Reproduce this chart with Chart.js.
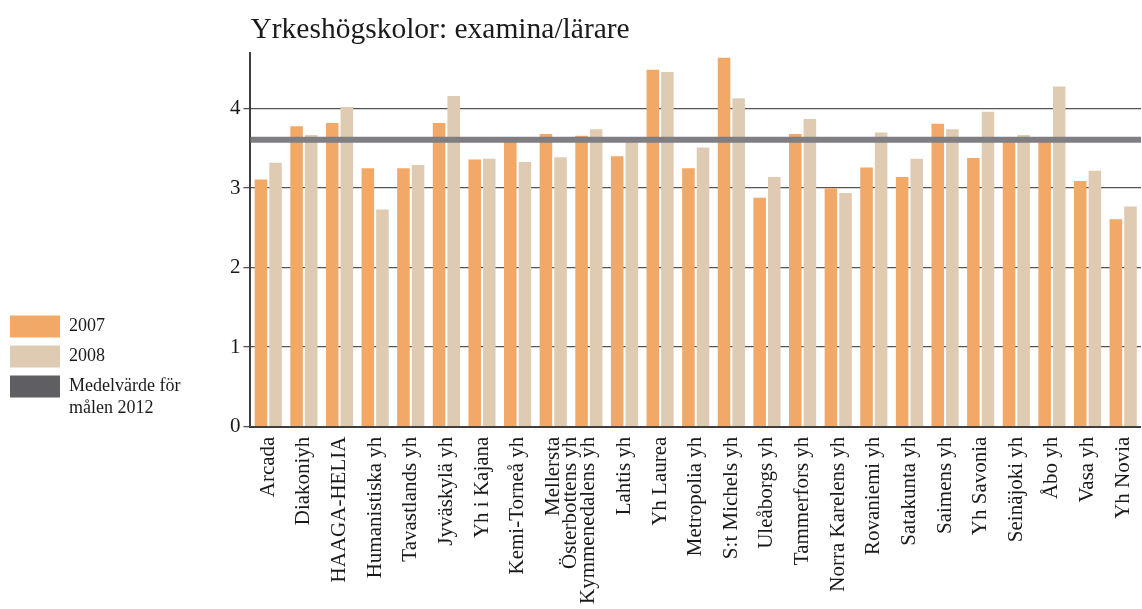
<!DOCTYPE html>
<html>
<head>
<meta charset="utf-8">
<script src="https://cdn.jsdelivr.net/npm/chart.js@4"></script>
<style>
  html, body { margin: 0; padding: 0; background: #fff; }
  #wrap { width: 1142px; height: 609px; }
</style>
</head>
<body>
<div id="wrap"><canvas id="chart"></canvas></div>
<script>
// Yrkeshögskolor: examina per lärare 2007 och 2008
const titel = 'Yrkeshögskolor: examina/lärare';

const skolor = [
  'Arcada', 'Diakoniyh', 'HAAGA-HELIA', 'Humanistiska yh', 'Tavastlands yh',
  'Jyväskylä yh', 'Yh i Kajana', 'Kemi-Torneå yh', ['Mellersta', 'Österbottens yh'],
  'Kymmenedalens yh', 'Lahtis yh', 'Yh Laurea', 'Metropolia yh', 'S:t Michels yh',
  'Uleåborgs yh', 'Tammerfors yh', 'Norra Karelens yh', 'Rovaniemi yh', 'Satakunta yh',
  'Saimens yh', 'Yh Savonia', 'Seinäjoki yh', 'Åbo yh', 'Vasa yh', 'Yh Novia'
];

const ar2007 = [3.11, 3.78, 3.82, 3.25, 3.25, 3.82, 3.36, 3.60, 3.68, 3.66, 3.40, 4.49, 3.25,
                4.64, 2.88, 3.68, 3.00, 3.26, 3.14, 3.81, 3.38, 3.60, 3.60, 3.09, 2.61];
const ar2008 = [3.32, 3.67, 4.02, 2.73, 3.29, 4.16, 3.37, 3.33, 3.39, 3.74, 3.60, 4.46, 3.51,
                4.13, 3.14, 3.87, 2.94, 3.70, 3.37, 3.74, 3.96, 3.67, 4.28, 3.22, 2.77];

// målet för 2012
const malvarde = 3.61;
const malEtikett = ['Medelvärde för', 'målen 2012'];

const yTicks = [0, 1, 2, 3, 4];

const serif = "'Liberation Serif', 'DejaVu Serif', serif";
const farg2007 = '#f2a866';
const farg2008 = '#dfcbb1';
const fargMal = '#5f5e63';

// horisontell linje för målet, över hela ritytan
const malLinje = {
  id: 'malLinje',
  afterDatasetsDraw(chart) {
    const { ctx, chartArea, scales } = chart;
    const y = scales.y.getPixelForValue(malvarde);
    ctx.save();
    ctx.strokeStyle = '#7f7e82';
    ctx.lineWidth = 6;
    ctx.beginPath();
    ctx.moveTo(chartArea.left, y);
    ctx.lineTo(chartArea.right, y);
    ctx.stroke();
    ctx.restore();
  }
};

const ctx = document.getElementById('chart');
new Chart(ctx, {
  type: 'bar',
  data: {
    labels: skolor,
    datasets: [
      {
        label: '2007',
        data: ar2007,
        backgroundColor: farg2007,
        categoryPercentage: 0.82,
        barPercentage: 0.86
      },
      {
        label: '2008',
        data: ar2008,
        backgroundColor: farg2008,
        categoryPercentage: 0.82,
        barPercentage: 0.86
      }
    ]
  },
  plugins: [malLinje],
  options: {
    responsive: true,
    maintainAspectRatio: false,
    animation: false,
    layout: { padding: { top: 4, right: 0, bottom: 3, left: 2 } },
    plugins: {
      title: {
        display: true,
        text: titel,
        align: 'start',
        fullSize: false,
        color: '#1a1a1a',
        font: { family: serif, size: 29.5, weight: 'normal', lineHeight: 1 },
        padding: { top: 11, bottom: 8.5 }
      },
      legend: {
        position: 'left',
        align: 'end',
        fullSize: false,
        labels: {
          boxWidth: 50,
          boxHeight: 22,
          padding: 8,
          color: '#1a1a1a',
          font: { family: serif, size: 18 },
          generateLabels: (chart) => {
            const items = Chart.defaults.plugins.legend.labels.generateLabels(chart);
            items.forEach(it => { it.lineWidth = 0; });
            items.push({
              text: malEtikett,
              fillStyle: fargMal,
              strokeStyle: fargMal,
              lineWidth: 0,
              hidden: false,
              fontColor: '#1a1a1a'
            });
            return items;
          }
        }
      },
      tooltip: { enabled: false }
    },
    scales: {
      x: {
        grid: { display: false },
        border: { display: true, color: '#3f3f3f', width: 2 },
        ticks: {
          autoSkip: false,
          minRotation: 90,
          maxRotation: 90,
          padding: 2,
          color: '#1a1a1a',
          font: { family: serif, size: 21, lineHeight: 0.8 }
        }
      },
      y: {
        min: 0,
        max: 4.7,
        afterBuildTicks: (scale) => { scale.ticks = yTicks.map(v => ({ value: v })); },
        afterFit: (scale) => { scale.width = 60; },
        grid: { color: '#555555', lineWidth: 1.3, tickLength: 7 },
        border: { display: true, color: '#3f3f3f', width: 2 },
        ticks: {
          padding: 3,
          color: '#1a1a1a',
          font: { family: serif, size: 21 }
        }
      }
    }
  }
});
</script>
</body>
</html>
